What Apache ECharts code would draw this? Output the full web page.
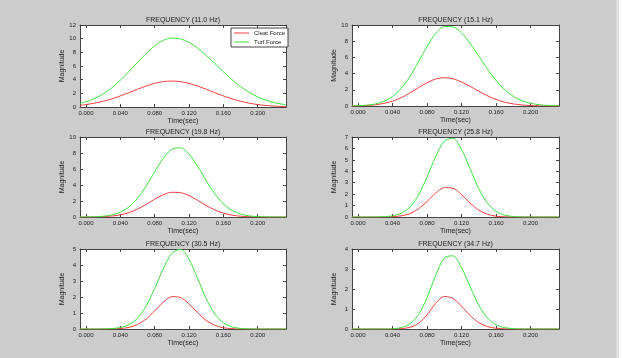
<!DOCTYPE html>
<html>
<head>
<meta charset="utf-8">
<script src="https://cdn.jsdelivr.net/npm/echarts@6/dist/echarts.min.js"></script>
<style>
	html, body { margin: 0; padding: 0; background: #cccccc; }
	#chart { width: 622px; height: 358px; }
</style>
</head>
<body>
<div id="chart"></div>
<script>
const times = [-0.007, 0, 0.01, 0.02, 0.03, 0.04, 0.05, 0.06, 0.07, 0.08, 0.09, 0.10, 0.11, 0.12, 0.13, 0.14, 0.15, 0.16, 0.17, 0.18, 0.19, 0.20, 0.21, 0.22, 0.23, 0.233]
const xTicks = [0, 0.04, 0.08, 0.12, 0.16, 0.2]

const titles = ['FREQUENCY (11.0 Hz)', 'FREQUENCY (15.1 Hz)', 'FREQUENCY (19.8 Hz)', 'FREQUENCY (25.8 Hz)', 'FREQUENCY (30.5 Hz)', 'FREQUENCY (34.7 Hz)']
const yMax = [12, 10, 10, 7, 5, 4]
const yStep = [2, 2, 2, 1, 1, 1]

const cleat11 = [0.25, 0.36, 0.56, 0.84, 1.19, 1.62, 2.10, 2.60, 3.07, 3.46, 3.71, 3.80, 3.71, 3.46, 3.07, 2.60, 2.10, 1.62, 1.19, 0.84, 0.56, 0.36, 0.22, 0.13, 0.07, 0.06]
const turf11 = [0.54, 0.77, 1.25, 1.92, 2.81, 3.91, 5.18, 6.53, 7.84, 8.96, 9.75, 10.09, 9.97, 9.46, 8.63, 7.57, 6.37, 5.15, 4.01, 2.99, 2.15, 1.48, 0.98, 0.62, 0.38, 0.33]
const cleat15 = [0.01, 0.03, 0.07, 0.15, 0.32, 0.60, 1.03, 1.60, 2.25, 2.88, 3.33, 3.50, 3.36, 2.97, 2.42, 1.82, 1.26, 0.81, 0.47, 0.26, 0.13, 0.06, 0.02, 0.01, 0, 0]
const turf15 = [0.02, 0.04, 0.10, 0.25, 0.57, 1.18, 2.17, 3.62, 5.43, 7.33, 8.94, 9.82, 9.77, 9.02, 7.73, 6.17, 4.57, 3.15, 2.02, 1.20, 0.66, 0.34, 0.16, 0.07, 0.03, 0.02]
const cleat19 = [0, 0.005, 0.02, 0.05, 0.12, 0.27, 0.55, 0.99, 1.57, 2.22, 2.78, 3.09, 3.05, 2.68, 2.09, 1.44, 0.89, 0.48, 0.23, 0.10, 0.04, 0.01, 0, 0, 0, 0]
const turf19 = [0, 0.01, 0.03, 0.10, 0.26, 0.60, 1.26, 2.34, 3.85, 5.64, 7.33, 8.45, 8.65, 7.87, 6.35, 4.55, 2.90, 1.64, 0.82, 0.37, 0.14, 0.05, 0.02, 0.01, 0, 0]
const cleat25 = [0, 0, 0, 0, 0.01, 0.03, 0.10, 0.29, 0.71, 1.36, 2.10, 2.57, 2.52, 1.96, 1.22, 0.60, 0.24, 0.07, 0.02, 0, 0, 0, 0, 0, 0, 0]
const turf25 = [0, 0, 0, 0.01, 0.03, 0.10, 0.32, 0.86, 1.90, 3.49, 5.29, 6.64, 6.89, 5.92, 4.22, 2.48, 1.21, 0.49, 0.16, 0.05, 0.01, 0, 0, 0, 0, 0]
const cleat30 = [0, 0, 0, 0, 0.01, 0.03, 0.10, 0.28, 0.62, 1.13, 1.67, 2.02, 1.97, 1.57, 1.02, 0.54, 0.23, 0.08, 0.02, 0, 0, 0, 0, 0, 0, 0]
const turf30 = [0, 0, 0, 0.01, 0.03, 0.09, 0.27, 0.68, 1.43, 2.53, 3.77, 4.73, 4.98, 4.36, 3.16, 1.90, 0.94, 0.39, 0.13, 0.04, 0.01, 0, 0, 0, 0, 0]
const cleat34 = [0, 0, 0, 0, 0, 0, 0.02, 0.08, 0.28, 0.71, 1.28, 1.63, 1.53, 1.14, 0.67, 0.32, 0.12, 0.04, 0.01, 0, 0, 0, 0, 0, 0, 0]
const turf34 = [0, 0, 0, 0, 0, 0.01, 0.07, 0.25, 0.71, 1.57, 2.68, 3.55, 3.66, 3.07, 2.11, 1.19, 0.55, 0.21, 0.07, 0.02, 0, 0, 0, 0, 0, 0]

const cleat = [cleat11, cleat15, cleat19, cleat25, cleat30, cleat34]
const turf = [turf11, turf15, turf19, turf25, turf30, turf34]

const font = 'Liberation Sans, Arial, sans-serif'
const ink = '#222'
const boxes = [
	{ left: 80, top: 25, width: 206, height: 82 },
	{ left: 352, top: 25, width: 207, height: 81 },
	{ left: 80, top: 137, width: 206, height: 80 },
	{ left: 352, top: 137, width: 207, height: 80 },
	{ left: 80, top: 249, width: 206, height: 80 },
	{ left: 352, top: 249, width: 207, height: 80 }
]

const pairs = (ys) => times.map((t, i) => [t, ys[i]])

const grid = []
const title = []
const xAxis = []
const yAxis = []
const series = []

boxes.forEach((b, i) => {
	grid.push({ left: b.left, top: b.top, width: b.width, height: b.height, backgroundColor: '#fff', show: true, borderWidth: 0 })
	title.push({
		text: titles[i],
		left: b.left + b.width / 2,
		top: b.top - 8,
		padding: 0,
		textAlign: 'center',
		textStyle: { fontFamily: font, fontSize: 7, fontWeight: 'normal', color: ink }
	})
	const lineStyle = { color: '#444', width: 1 }
	xAxis.push({
		gridIndex: i, type: 'value', min: -0.007, max: 0.233,
		name: 'Time(sec)', nameLocation: 'middle', nameGap: 11,
		nameTextStyle: { fontFamily: font, fontSize: 7, color: ink },
		axisLine: { onZero: false, lineStyle },
		axisTick: { inside: true, length: 3, customValues: xTicks, lineStyle },
		axisLabel: { customValues: xTicks, formatter: (v) => v.toFixed(3), fontFamily: font, fontSize: 6, color: ink, margin: 3 },
		splitLine: { show: false }
	})
	xAxis.push({
		gridIndex: i, type: 'value', position: 'top', min: -0.007, max: 0.233,
		axisLine: { show: true, onZero: false, lineStyle },
		axisTick: { inside: true, length: 3, customValues: xTicks, lineStyle },
		axisLabel: { show: false, customValues: xTicks },
		splitLine: { show: false }
	})
	yAxis.push({
		gridIndex: i, type: 'value', min: 0, max: yMax[i], interval: yStep[i],
		name: 'Magnitude', nameLocation: 'middle', nameGap: 14,
		nameTextStyle: { fontFamily: font, fontSize: 7, color: ink },
		axisLine: { show: true, onZero: false, lineStyle },
		axisTick: { show: true, inside: true, length: 3, lineStyle },
		axisLabel: { fontFamily: font, fontSize: 6, color: ink, margin: 4 },
		splitLine: { show: false }
	})
	yAxis.push({
		gridIndex: i, type: 'value', position: 'right', min: 0, max: yMax[i], interval: yStep[i],
		axisLine: { show: true, onZero: false, lineStyle },
		axisTick: { show: true, inside: true, length: 3, lineStyle },
		axisLabel: { show: false },
		splitLine: { show: false }
	})
	series.push({
		name: 'Cleat Force', type: 'line', xAxisIndex: 2 * i, yAxisIndex: 2 * i,
		data: pairs(cleat[i]), symbol: 'none', smooth: 0.3,
		lineStyle: { color: '#f04040', width: 1 }, itemStyle: { color: '#f04040' }
	})
	series.push({
		name: 'Turf Force', type: 'line', xAxisIndex: 2 * i, yAxisIndex: 2 * i,
		data: pairs(turf[i]), symbol: 'none', smooth: 0.3,
		lineStyle: { color: '#40e040', width: 1 }, itemStyle: { color: '#40e040' }
	})
})

const myChart = echarts.init(document.getElementById('chart'))

myChart.setOption({
	backgroundColor: '#cccccc',
	animation: false,
	title,
	grid,
	xAxis,
	yAxis,
	series,
	legend: {
		data: ['Cleat Force', 'Turf Force'],
		orient: 'vertical',
		left: 231,
		top: 28,
		padding: [2, 3, 2, 3],
		icon: 'rect',
		itemWidth: 15,
		itemHeight: 1,
		itemGap: 3,
		selectedMode: false,
		backgroundColor: '#fff',
		borderColor: '#444',
		borderWidth: 1,
		borderRadius: 0,
		textStyle: { fontFamily: font, fontSize: 6, color: ink }
	},
	graphic: [
		{ type: 'rect', shape: { x: 616, y: 0, width: 3, height: 358 }, style: { fill: '#dedede' } },
		{ type: 'rect', shape: { x: 619, y: 0, width: 3, height: 358 }, style: { fill: '#fafafa' } }
	]
})
</script>
</body>
</html>
